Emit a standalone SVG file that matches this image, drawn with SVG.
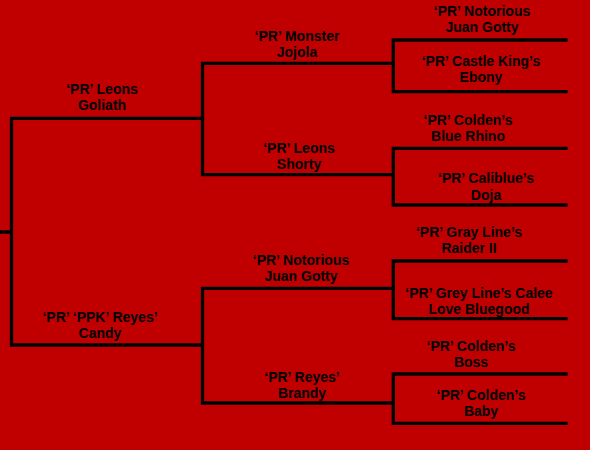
<svg xmlns="http://www.w3.org/2000/svg" width="590" height="450" viewBox="0 0 590 450">
<style>
.bg{fill:#C00000}
.ln{fill:none;stroke:#000;stroke-width:3.3;stroke-linecap:square}
text{font-family:"Liberation Sans",Arial,sans-serif;font-size:14px;font-weight:bold;fill:#000;text-anchor:middle}
</style>
<rect class="bg" x="0" y="0" width="590" height="450"/>
<g id="connectors">
<path class="ln" d="M0,232H11.5M11.5,118.3V345M11.5,118.3H202.5M11.5,345H202.5"/>
<path class="ln" d="M202.5,63.3V174.7M202.5,63.3H393.3M202.5,174.7H393.3"/>
<path class="ln" d="M202.5,288.3V403M202.5,288.3H393.3M202.5,403H393.3"/>
<path class="ln" d="M393.3,40V91.7M393.3,40H566M393.3,91.7H566"/>
<path class="ln" d="M393.3,148.3V205M393.3,148.3H566M393.3,205H566"/>
<path class="ln" d="M393.3,261V318.7M393.3,261H566M393.3,318.7H566"/>
<path class="ln" d="M393.3,374V423.3M393.3,374H566M393.3,423.3H566"/>
</g>
<g id="n-goliath"><text x="102" y="93.5">‘PR’ Leons</text><text x="102" y="110">Goliath</text></g>
<g id="n-candy"><text x="100" y="321.5">‘PR’ ‘PPK’ Reyes’</text><text x="100" y="338">Candy</text></g>
<g id="n-jojola"><text x="297" y="40.5">‘PR’ Monster</text><text x="297" y="57">Jojola</text></g>
<g id="n-shorty"><text x="299" y="152.5">‘PR’ Leons</text><text x="299" y="169">Shorty</text></g>
<g id="n-gotty2"><text x="301" y="264.5">‘PR’ Notorious</text><text x="301" y="281">Juan Gotty</text></g>
<g id="n-brandy"><text x="302" y="381.5">‘PR’ Reyes’</text><text x="302" y="398">Brandy</text></g>
<g id="n-gotty1"><text x="482" y="15.5">‘PR’ Notorious</text><text x="482" y="32">Juan Gotty</text></g>
<g id="n-ebony"><text x="481" y="65.5">‘PR’ Castle King’s</text><text x="481" y="82">Ebony</text></g>
<g id="n-rhino"><text x="468" y="124.5">‘PR’ Colden’s</text><text x="468" y="141">Blue Rhino</text></g>
<g id="n-doja"><text x="486" y="183">‘PR’ Caliblue’s</text><text x="486" y="199.5">Doja</text></g>
<g id="n-raider"><text x="469" y="236.5">‘PR’ Gray Line’s</text><text x="469" y="253">Raider II</text></g>
<g id="n-calee"><text x="479" y="297.5">‘PR’ Grey Line’s Calee</text><text x="479" y="314">Love Bluegood</text></g>
<g id="n-boss"><text x="471" y="350.5">‘PR’ Colden’s</text><text x="471" y="367">Boss</text></g>
<g id="n-baby"><text x="481" y="399.5">‘PR’ Colden’s</text><text x="481" y="416">Baby</text></g>
</svg>
